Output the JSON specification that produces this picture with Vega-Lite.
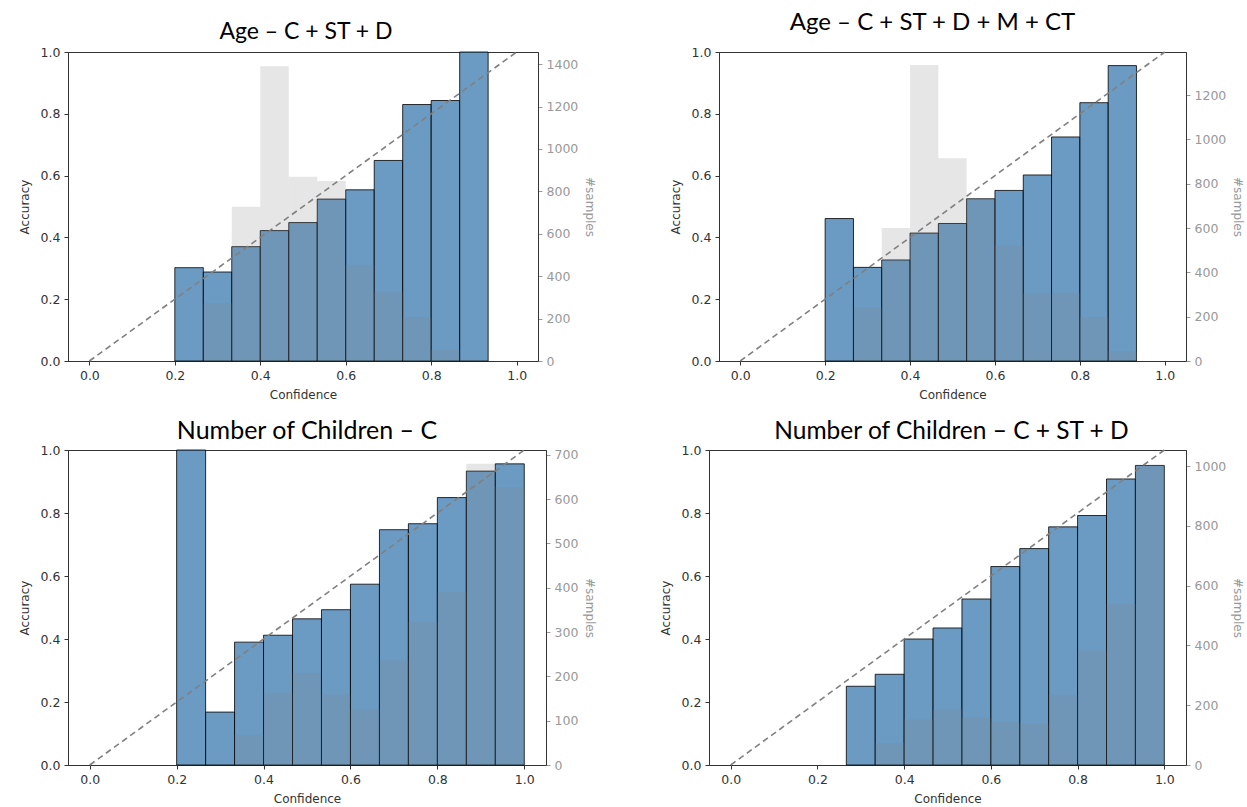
{
  "$schema": "https://vega.github.io/schema/vega-lite/v6.json",
  "padding": {"left": 17, "top": 10, "right": 0, "bottom": 0},
  "background": "white",
  "config": {
    "view": {"stroke": "#333", "strokeWidth": 1},
    "title": {"font": "Lato", "fontSize": 23, "fontWeight": "normal", "color": "#000", "anchor": "middle", "baseline": "alphabetic"},
    "axis": {
      "labelFont": "DejaVu Sans", "labelFontSize": 12.5, "labelColor": "#333",
      "titleFont": "DejaVu Sans", "titleFontSize": 12, "titleFontWeight": "normal", "titleColor": "#333",
      "domainColor": "#333", "tickColor": "#333", "tickSize": 4, "grid": false, "labelPadding": 4
    }
  },
  "datasets": {
    "diag": [{"c": 0}, {"c": 1}],
    "p1": [
      {"lo": 0.2, "hi": 0.2667, "acc": 0.302, "n": 0},
      {"lo": 0.2667, "hi": 0.3333, "acc": 0.288, "n": 272},
      {"lo": 0.3333, "hi": 0.4, "acc": 0.370, "n": 727},
      {"lo": 0.4, "hi": 0.4667, "acc": 0.422, "n": 1390},
      {"lo": 0.4667, "hi": 0.5333, "acc": 0.448, "n": 869},
      {"lo": 0.5333, "hi": 0.6, "acc": 0.524, "n": 849},
      {"lo": 0.6, "hi": 0.6667, "acc": 0.554, "n": 453},
      {"lo": 0.6667, "hi": 0.7333, "acc": 0.649, "n": 324},
      {"lo": 0.7333, "hi": 0.8, "acc": 0.830, "n": 206},
      {"lo": 0.8, "hi": 0.8667, "acc": 0.843, "n": 52},
      {"lo": 0.8667, "hi": 0.9333, "acc": 1.0, "n": 5}
    ],
    "p2": [
      {"lo": 0.2, "hi": 0.2667, "acc": 0.461, "n": 0},
      {"lo": 0.2667, "hi": 0.3333, "acc": 0.303, "n": 244},
      {"lo": 0.3333, "hi": 0.4, "acc": 0.327, "n": 600},
      {"lo": 0.4, "hi": 0.4667, "acc": 0.414, "n": 1335},
      {"lo": 0.4667, "hi": 0.5333, "acc": 0.445, "n": 915},
      {"lo": 0.5333, "hi": 0.6, "acc": 0.525, "n": 735},
      {"lo": 0.6, "hi": 0.6667, "acc": 0.552, "n": 520},
      {"lo": 0.6667, "hi": 0.7333, "acc": 0.602, "n": 303},
      {"lo": 0.7333, "hi": 0.8, "acc": 0.725, "n": 308},
      {"lo": 0.8, "hi": 0.8667, "acc": 0.836, "n": 199},
      {"lo": 0.8667, "hi": 0.9333, "acc": 0.956, "n": 45}
    ],
    "p3": [
      {"lo": 0.2, "hi": 0.2667, "acc": 1.0, "n": 0},
      {"lo": 0.2667, "hi": 0.3333, "acc": 0.168, "n": 0},
      {"lo": 0.3333, "hi": 0.4, "acc": 0.390, "n": 68},
      {"lo": 0.4, "hi": 0.4667, "acc": 0.412, "n": 163},
      {"lo": 0.4667, "hi": 0.5333, "acc": 0.464, "n": 207},
      {"lo": 0.5333, "hi": 0.6, "acc": 0.493, "n": 159},
      {"lo": 0.6, "hi": 0.6667, "acc": 0.574, "n": 125},
      {"lo": 0.6667, "hi": 0.7333, "acc": 0.747, "n": 236},
      {"lo": 0.7333, "hi": 0.8, "acc": 0.766, "n": 322},
      {"lo": 0.8, "hi": 0.8667, "acc": 0.849, "n": 390},
      {"lo": 0.8667, "hi": 0.9333, "acc": 0.933, "n": 680},
      {"lo": 0.9333, "hi": 1.0, "acc": 0.956, "n": 627}
    ],
    "p4": [
      {"lo": 0.2667, "hi": 0.3333, "acc": 0.250, "n": 0},
      {"lo": 0.3333, "hi": 0.4, "acc": 0.288, "n": 74},
      {"lo": 0.4, "hi": 0.4667, "acc": 0.400, "n": 152},
      {"lo": 0.4667, "hi": 0.5333, "acc": 0.435, "n": 186},
      {"lo": 0.5333, "hi": 0.6, "acc": 0.527, "n": 158},
      {"lo": 0.6, "hi": 0.6667, "acc": 0.630, "n": 143},
      {"lo": 0.6667, "hi": 0.7333, "acc": 0.687, "n": 138},
      {"lo": 0.7333, "hi": 0.8, "acc": 0.756, "n": 235},
      {"lo": 0.8, "hi": 0.8667, "acc": 0.792, "n": 383},
      {"lo": 0.8667, "hi": 0.9333, "acc": 0.908, "n": 539},
      {"lo": 0.9333, "hi": 1.0, "acc": 0.951, "n": 1003}
    ]
  },
  "spacing": 17,
  "vconcat": [
    {
      "bounds": "flush",
      "spacing": 181,
      "hconcat": [
        {
          "width": 470, "height": 309,
          "title": {"text": "Age – C + ST + D", "offset": 2, "dx": 3, "fontSize": 23},
          "layer": [
            {"data": {"name": "p1"},
             "mark": {"type": "bar", "fill": "#4682b4", "fillOpacity": 0.8, "stroke": "#000", "strokeOpacity": 0.8, "strokeWidth": 1},
             "encoding": {
               "x": {"field": "lo", "type": "quantitative", "scale": {"domain": [-0.05, 1.05], "nice": false, "zero": false},
                     "axis": {"title": "Confidence", "values": [0, 0.2, 0.4, 0.6, 0.8, 1.0], "format": ".1f", "titlePadding": 8}},
               "x2": {"field": "hi"},
               "y": {"field": "acc", "type": "quantitative", "scale": {"domain": [0, 1], "nice": false},
                     "axis": {"title": "Accuracy", "orient": "left", "values": [0, 0.2, 0.4, 0.6, 0.8, 1.0], "format": ".1f", "titlePadding": 9}},
               "y2": {"datum": 0}
             }},
            {"data": {"name": "diag"},
             "mark": {"type": "line", "stroke": "#808080", "strokeDash": [6, 4], "strokeWidth": 1.6},
             "encoding": {
               "x": {"field": "c", "type": "quantitative"},
               "y": {"field": "c", "type": "quantitative", "scale": {"domain": [0, 1], "nice": false}, "axis": null}
             }},
            {"data": {"name": "p1"},
             "mark": {"type": "bar", "fill": "#808080", "fillOpacity": 0.2},
             "encoding": {
               "x": {"field": "lo", "type": "quantitative"},
               "x2": {"field": "hi"},
               "y": {"field": "n", "type": "quantitative", "scale": {"domain": [0, 1457], "nice": false},
                     "axis": {"title": "#samples", "orient": "right", "format": "d", "values": [0, 200, 400, 600, 800, 1000, 1200, 1400], "labelColor": "#999", "titleColor": "#999", "tickColor": "#999", "titlePadding": 5}},
               "y2": {"datum": 0}
             }}
          ],
          "resolve": {"scale": {"y": "independent"}, "axis": {"y": "independent"}}
        },
        {
          "width": 467, "height": 309,
          "title": {"text": "Age – C + ST + D + M + CT", "offset": 11, "dx": -20, "fontSize": 24},
          "layer": [
            {"data": {"name": "p2"},
             "mark": {"type": "bar", "fill": "#4682b4", "fillOpacity": 0.8, "stroke": "#000", "strokeOpacity": 0.8, "strokeWidth": 1},
             "encoding": {
               "x": {"field": "lo", "type": "quantitative", "scale": {"domain": [-0.05, 1.05], "nice": false, "zero": false},
                     "axis": {"title": "Confidence", "values": [0, 0.2, 0.4, 0.6, 0.8, 1.0], "format": ".1f", "titlePadding": 8}},
               "x2": {"field": "hi"},
               "y": {"field": "acc", "type": "quantitative", "scale": {"domain": [0, 1], "nice": false},
                     "axis": {"title": "Accuracy", "orient": "left", "values": [0, 0.2, 0.4, 0.6, 0.8, 1.0], "format": ".1f", "titlePadding": 9}},
               "y2": {"datum": 0}
             }},
            {"data": {"name": "diag"},
             "mark": {"type": "line", "stroke": "#808080", "strokeDash": [6, 4], "strokeWidth": 1.6},
             "encoding": {
               "x": {"field": "c", "type": "quantitative"},
               "y": {"field": "c", "type": "quantitative", "scale": {"domain": [0, 1], "nice": false}, "axis": null}
             }},
            {"data": {"name": "p2"},
             "mark": {"type": "bar", "fill": "#808080", "fillOpacity": 0.2},
             "encoding": {
               "x": {"field": "lo", "type": "quantitative"},
               "x2": {"field": "hi"},
               "y": {"field": "n", "type": "quantitative", "scale": {"domain": [0, 1394], "nice": false},
                     "axis": {"title": "#samples", "orient": "right", "format": "d", "values": [0, 200, 400, 600, 800, 1000, 1200], "labelColor": "#999", "titleColor": "#999", "tickColor": "#999", "titlePadding": 5}},
               "y2": {"datum": 0}
             }}
          ],
          "resolve": {"scale": {"y": "independent"}, "axis": {"y": "independent"}}
        }
      ]
    },
    {
      "bounds": "flush",
      "spacing": 163,
      "hconcat": [
        {
          "width": 478, "height": 315,
          "title": {"text": "Number of Children – C", "offset": 0, "dx": 0, "fontSize": 25},
          "layer": [
            {"data": {"name": "p3"},
             "mark": {"type": "bar", "fill": "#4682b4", "fillOpacity": 0.8, "stroke": "#000", "strokeOpacity": 0.8, "strokeWidth": 1},
             "encoding": {
               "x": {"field": "lo", "type": "quantitative", "scale": {"domain": [-0.05, 1.05], "nice": false, "zero": false},
                     "axis": {"title": "Confidence", "values": [0, 0.2, 0.4, 0.6, 0.8, 1.0], "format": ".1f", "titlePadding": 8}},
               "x2": {"field": "hi"},
               "y": {"field": "acc", "type": "quantitative", "scale": {"domain": [0, 1], "nice": false},
                     "axis": {"title": "Accuracy", "orient": "left", "values": [0, 0.2, 0.4, 0.6, 0.8, 1.0], "format": ".1f", "titlePadding": 9}},
               "y2": {"datum": 0}
             }},
            {"data": {"name": "diag"},
             "mark": {"type": "line", "stroke": "#808080", "strokeDash": [6, 4], "strokeWidth": 1.6},
             "encoding": {
               "x": {"field": "c", "type": "quantitative"},
               "y": {"field": "c", "type": "quantitative", "scale": {"domain": [0, 1], "nice": false}, "axis": null}
             }},
            {"data": {"name": "p3"},
             "mark": {"type": "bar", "fill": "#808080", "fillOpacity": 0.2},
             "encoding": {
               "x": {"field": "lo", "type": "quantitative"},
               "x2": {"field": "hi"},
               "y": {"field": "n", "type": "quantitative", "scale": {"domain": [0, 711], "nice": false},
                     "axis": {"title": "#samples", "orient": "right", "format": "d", "values": [0, 100, 200, 300, 400, 500, 600, 700], "labelColor": "#999", "titleColor": "#999", "tickColor": "#999", "titlePadding": 5}},
               "y2": {"datum": 0}
             }}
          ],
          "resolve": {"scale": {"y": "independent"}, "axis": {"y": "independent"}}
        },
        {
          "width": 477, "height": 315,
          "title": {"text": "Number of Children – C + ST + D", "offset": 0, "dx": 4, "fontSize": 24.5},
          "layer": [
            {"data": {"name": "p4"},
             "mark": {"type": "bar", "fill": "#4682b4", "fillOpacity": 0.8, "stroke": "#000", "strokeOpacity": 0.8, "strokeWidth": 1},
             "encoding": {
               "x": {"field": "lo", "type": "quantitative", "scale": {"domain": [-0.05, 1.05], "nice": false, "zero": false},
                     "axis": {"title": "Confidence", "values": [0, 0.2, 0.4, 0.6, 0.8, 1.0], "format": ".1f", "titlePadding": 8}},
               "x2": {"field": "hi"},
               "y": {"field": "acc", "type": "quantitative", "scale": {"domain": [0, 1], "nice": false},
                     "axis": {"title": "Accuracy", "orient": "left", "values": [0, 0.2, 0.4, 0.6, 0.8, 1.0], "format": ".1f", "titlePadding": 9}},
               "y2": {"datum": 0}
             }},
            {"data": {"name": "diag"},
             "mark": {"type": "line", "stroke": "#808080", "strokeDash": [6, 4], "strokeWidth": 1.6},
             "encoding": {
               "x": {"field": "c", "type": "quantitative"},
               "y": {"field": "c", "type": "quantitative", "scale": {"domain": [0, 1], "nice": false}, "axis": null}
             }},
            {"data": {"name": "p4"},
             "mark": {"type": "bar", "fill": "#808080", "fillOpacity": 0.2},
             "encoding": {
               "x": {"field": "lo", "type": "quantitative"},
               "x2": {"field": "hi"},
               "y": {"field": "n", "type": "quantitative", "scale": {"domain": [0, 1054], "nice": false},
                     "axis": {"title": "#samples", "orient": "right", "format": "d", "values": [0, 200, 400, 600, 800, 1000], "labelColor": "#999", "titleColor": "#999", "tickColor": "#999", "titlePadding": 5}},
               "y2": {"datum": 0}
             }}
          ],
          "resolve": {"scale": {"y": "independent"}, "axis": {"y": "independent"}}
        }
      ]
    }
  ]
}
